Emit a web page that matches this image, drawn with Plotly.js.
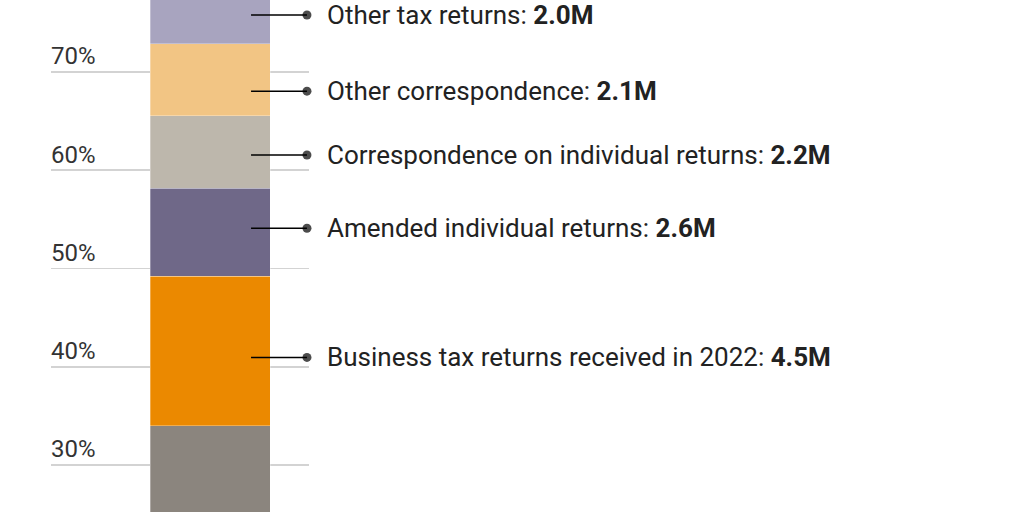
<!DOCTYPE html>
<html>
<head>
<meta charset="utf-8">
<script src="https://cdn.plot.ly/plotly-3.0.1.min.js"></script>
<style>
  html, body { margin: 0; padding: 0; background: #fff; }
  #chart { width: 1024px; height: 512px; }
</style>
</head>
<body>
<div id="chart"></div>
<script>
// stacked shares (percent of backlog), bottom to top
var segNames = ['Other', 'Business tax returns received in 2022', 'Amended individual returns',
  'Correspondence on individual returns', 'Other correspondence', 'Other tax returns'];
var segShare = [34.0, 15.2, 8.95, 7.4, 7.35, 6.8];
var segMillions = [null, '4.5M', '2.6M', '2.2M', '2.1M', '2.0M'];
var segColors = ['#8b857e', '#eb8900', '#6f6888', '#bdb7ac', '#f2c584', '#a8a4bf'];
// where each callout sits on the percent scale
var labelY = [null, 40.95, 54.1, 61.55, 68.05, 75.8];
var tickVals = [30, 40, 50, 60, 70];
var tickText = ['30%', '40%', '50%', '60%', '70%'];

var FONT = 'Roboto, sans-serif';

var traces = [];
for (var i = 0; i < segNames.length; i++) {
  traces.push({
    type: 'bar',
    x: [0],
    y: [segShare[i]],
    width: 1,
    name: segNames[i],
    marker: {color: segColors[i], line: {color: 'rgba(255,255,255,0.5)', width: 0.6}},
    hoverinfo: 'name+y'
  });
}

// leader lines with a dot at the outer end
var lx = [], ly = [], ms = [];
var annotations = [];
for (var i = 0; i < segNames.length; i++) {
  if (labelY[i] === null) continue;
  lx.push(0.342, 0.808, null);
  ly.push(labelY[i], labelY[i], null);
  ms.push(0, 9, 0);
  annotations.push({
    xref: 'paper', yref: 'y',
    x: 325 / 1024, y: labelY[i],
    xanchor: 'left', yanchor: 'middle',
    showarrow: false,
    text: segNames[i] + ': <b>' + segMillions[i] + '</b>',
    font: {family: FONT, size: 26, color: '#222'}
  });
}
traces.push({
  type: 'scatter',
  mode: 'lines+markers',
  x: lx, y: ly,
  line: {color: '#000', width: 1.5},
  marker: {size: ms, color: '#000', line: {width: 0}},
  cliponaxis: false,
  hoverinfo: 'skip',
  showlegend: false
});

var layout = {
  width: 1024,
  height: 512,
  barmode: 'stack',
  showlegend: false,
  margin: {l: 0, r: 0, t: 0, b: 0, pad: 0},
  paper_bgcolor: '#fff',
  plot_bgcolor: '#fff',
  xaxis: {
    domain: [51 / 1024, 309 / 1024],
    range: [-1.325, 0.825],
    showgrid: false,
    zeroline: false,
    showticklabels: false,
    fixedrange: true
  },
  yaxis: {
    range: [25.21, 77.33],
    tickmode: 'array',
    tickvals: tickVals,
    ticktext: tickText,
    showgrid: true,
    gridcolor: '#d3d3d3',
    gridwidth: 1.6,
    zeroline: false,
    showline: false,
    ticks: '',
    ticklabelposition: 'inside',
    ticklabelshift: -16,
    ticklabelstandoff: -3,
    tickfont: {family: FONT, size: 24, color: '#333'},
    fixedrange: true
  },
  annotations: annotations
};

Plotly.newPlot('chart', traces, layout, {displayModeBar: false, staticPlot: true});
</script>
</body>
</html>
